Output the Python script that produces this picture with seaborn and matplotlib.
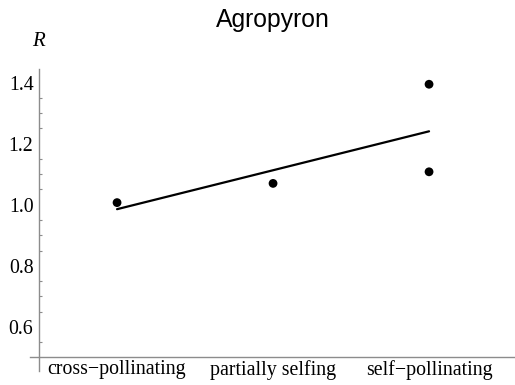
import numpy as np
import pandas as pd
import matplotlib
matplotlib.use("Agg")
import matplotlib.pyplot as plt
from matplotlib.ticker import FixedLocator
import seaborn as sns

# Mating system categories and the observed R values for Agropyron
categories = ["cross\u2212pollinating", "partially selfing", "self\u2212pollinating"]
category_index = [1, 2, 3, 3]
r_values = [1.007, 1.070, 1.395, 1.108]
y_ticks = [0.6, 0.8, 1.0, 1.2, 1.4]

df = pd.DataFrame({"mating": category_index, "R": r_values})

sns.set_theme(style="white")
plt.rcParams["font.family"] = ["Liberation Serif", "DejaVu Serif"]
plt.rcParams["text.color"] = "black"

fig = plt.figure(figsize=(5.15, 3.85), dpi=100)
W, H = 515, 385
left_px, right_px, top_px, bottom_px = 30, 515, 69.3, 371
ax = fig.add_axes([left_px / W, 1 - bottom_px / H,
                   (right_px - left_px) / W, (bottom_px - top_px) / H])

sns.scatterplot(data=df, x="mating", y="R", ax=ax, color="black",
                s=40, edgecolor="none", zorder=3)
sns.regplot(data=df, x="mating", y="R", ax=ax, scatter=False, ci=None,
            truncate=True, color="black", line_kws={"linewidth": 1.6})

ax.set_xlim(0.442, 3.551)
ax.set_ylim(0.455, 1.444)

axis_color = "#8c8c8c"
for side in ("top", "right"):
    ax.spines[side].set_visible(False)
ax.spines["left"].set_position(("data", 0.5))
ax.spines["bottom"].set_position(("data", 0.5))
for side in ("left", "bottom"):
    ax.spines[side].set_color(axis_color)
    ax.spines[side].set_linewidth(1.0)

ax.set_xticks([1, 2, 3])
ax.set_xticklabels(categories)
ax.yaxis.set_major_locator(FixedLocator(y_ticks))
ax.yaxis.set_minor_locator(FixedLocator([0.55, 0.65, 0.7, 0.75, 0.85, 0.9, 0.95,
                                         1.05, 1.1, 1.15, 1.25, 1.3, 1.35]))
ax.set_yticklabels([f"{v:.1f}" for v in y_ticks])

ax.tick_params(axis="both", which="both", direction="in", color=axis_color,
               labelsize=14.3, labelcolor="black")
ax.tick_params(axis="x", which="major", length=4, width=0.9, pad=2)
ax.tick_params(axis="y", which="major", length=4, width=0.9, pad=4)
ax.tick_params(axis="y", which="minor", length=2.2, width=0.8, left=True)
ax.set_xlabel("")
ax.set_ylabel("")

fig.text(38.5 / W, 1 - 42 / H, "R", fontsize=15, fontstyle="italic",
         ha="center", va="center", family=["Liberation Serif", "DejaVu Serif"])
fig.text(272.5 / W, 1 - 20 / H, "Agropyron", fontsize=17.8, ha="center",
         va="center", family=["Liberation Sans", "DejaVu Sans"])

fig.savefig("out.png", dpi=100)
